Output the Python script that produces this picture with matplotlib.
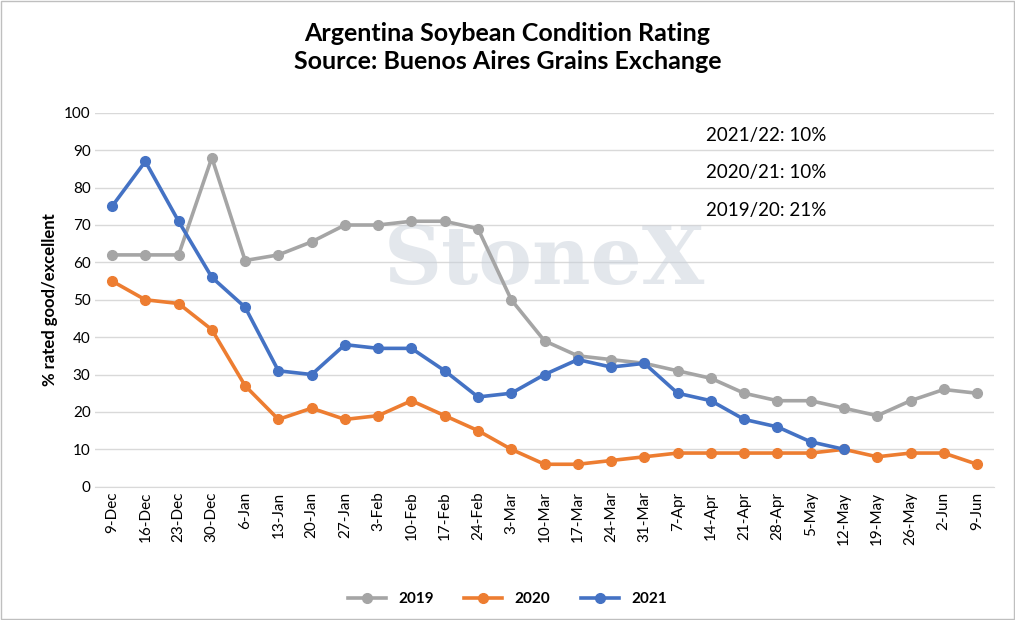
import matplotlib
matplotlib.use("Agg")
import matplotlib.pyplot as plt

plt.rcParams['font.family'] = ['Lato', 'DejaVu Sans']

dates = ["9-Dec","16-Dec","23-Dec","30-Dec","6-Jan","13-Jan","20-Jan","27-Jan","3-Feb","10-Feb",
         "17-Feb","24-Feb","3-Mar","10-Mar","17-Mar","24-Mar","31-Mar","7-Apr","14-Apr","21-Apr",
         "28-Apr","5-May","12-May","19-May","26-May","2-Jun","9-Jun"]
s2019 = [62,62,62,88,60.5,62,65.5,70,70,71,71,69,50,39,35,34,33,31,29,25,23,23,21,19,23,26,25]
s2020 = [55,50,49,42,27,18,21,18,19,23,19,15,10,6,6,7,8,9,9,9,9,9,10,8,9,9,6]
s2021 = [75,87,71,56,48,31,30,38,37,37,31,24,25,30,34,32,33,25,23,18,16,12,10]
notes = ["2021/22: 10%", "2020/21: 10%", "2019/20: 21%"]

fig = plt.figure(figsize=(10.15, 6.2), dpi=100)
ax = fig.add_axes([0.094, 0.215, 0.885, 0.603])
x = list(range(len(dates)))
ax.plot(x, s2019, color="#A5A5A5", marker="o", ms=7, lw=2.6, label="2019", zorder=3)
ax.plot(x, s2020, color="#ED7D31", marker="o", ms=7, lw=2.6, label="2020", zorder=4)
ax.plot(x[:len(s2021)], s2021, color="#4472C4", marker="o", ms=7, lw=2.6, label="2021", zorder=5)

ax.set_xlim(-0.5, len(dates) - 0.5)
ax.set_ylim(0, 100)
ax.set_yticks(range(0, 101, 10))
ax.set_xticks(x)
ax.set_xticklabels(dates, rotation=90, fontsize=11)
ax.tick_params(axis='y', labelsize=11, length=0)
ax.tick_params(axis='x', length=0)
ax.grid(axis='y', color="#D9D9D9", lw=1)
ax.set_axisbelow(True)
for s in ['top', 'right', 'left']:
    ax.spines[s].set_visible(False)
ax.spines['bottom'].set_color("#D9D9D9")
ax.set_ylabel("% rated good/excellent", fontsize=12, fontweight='bold')

ax.text(0.5, 0.6, "StoneX", transform=ax.transAxes, ha='center', va='center',
        fontsize=58, family='DejaVu Serif', fontweight='bold', color="#C8D0DA", alpha=0.5, zorder=1)

for i, n in enumerate(notes):
    ax.text(0.68, 0.94 - i * 0.1, n, transform=ax.transAxes, fontsize=13.5, va='center')

fig.suptitle("Argentina Soybean Condition Rating\nSource: Buenos Aires Grains Exchange",
             y=0.965, fontsize=18, fontweight='bold', linespacing=1.3)
leg = fig.legend(loc='lower center', bbox_to_anchor=(0.5, 0.0), ncol=3, frameon=False,
                 prop={'size': 11, 'weight': 'bold'}, handlelength=2.5)
fig.patches.append(plt.Rectangle((0.001, 0.001), 0.998, 0.998, transform=fig.transFigure,
                                 fill=False, edgecolor="#BFBFBF", lw=1))
fig.savefig("out.png", dpi=100)
